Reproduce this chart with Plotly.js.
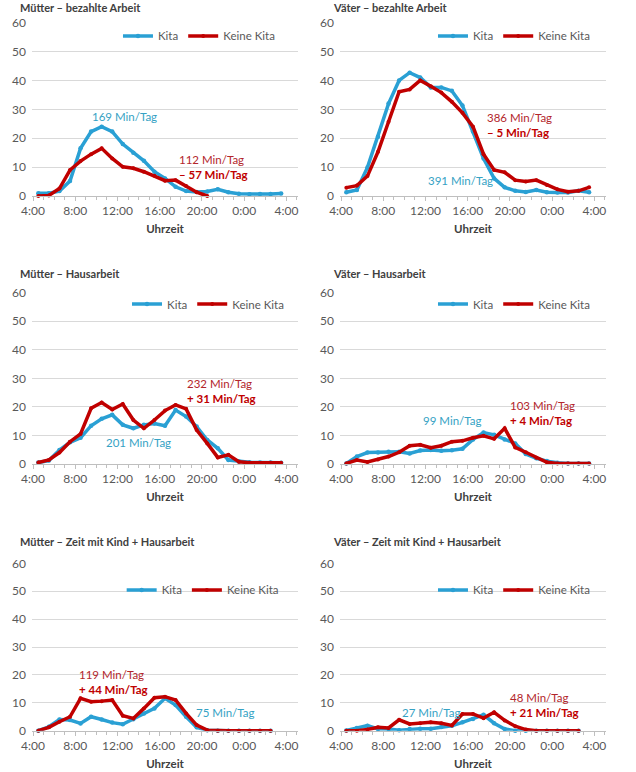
<!DOCTYPE html>
<html>
<head>
<meta charset="utf-8">
<script src="https://cdn.plot.ly/plotly-3.0.1.min.js"></script>
<style>
  html, body { margin: 0; padding: 0; background: #fff; }
  #chart { width: 636px; height: 772px; }
</style>
</head>
<body>
<div id="chart"></div>
<script>
// Stunden (Mitte jeder Stunde, 4:30 ... 3:30)
var hours = [4.5, 5.5, 6.5, 7.5, 8.5, 9.5, 10.5, 11.5, 12.5, 13.5, 14.5, 15.5,
             16.5, 17.5, 18.5, 19.5, 20.5, 21.5, 22.5, 23.5, 24.5, 25.5, 26.5, 27.5];
var tickPos = [4, 8, 12, 16, 20, 24, 28];
var tickLabels = ["4:00", "8:00", "12:00", "16:00", "20:00", "0:00", "4:00"];
var seriesNames = ["Kita", "Keine Kita"];

// Mütter – bezahlte Arbeit
var mArbeitKita  = [1.0, 1.0, 1.7, 5.2, 16.5, 22.3, 24.0, 22.3, 18.0, 15.0, 12.2, 8.4,
                    6.1, 3.2, 1.7, 1.4, 1.6, 2.3, 1.3, 0.8, 0.6, 0.7, 0.7, 0.9];
var mArbeitKeine = [0.0, 0.2, 2.6, 9.0, 12.1, 14.5, 16.5, 13.0, 10.1, 9.6, 8.4, 7.0,
                    5.3, 5.5, 3.5, 1.3, 0.0, null, null, null, null, null, null, null];
// Väter – bezahlte Arbeit
var vArbeitKita  = [1.3, 2.1, 9.9, 20.5, 32.0, 40.0, 42.7, 41.0, 37.6, 37.6, 36.4, 31.3,
                    22.3, 13.0, 6.1, 3.0, 1.8, 1.4, 2.1, 1.3, 1.2, 1.2, 1.8, 1.3];
var vArbeitKeine = [2.9, 3.6, 6.9, 15.3, 25.7, 36.1, 36.9, 40.0, 38.0, 35.8, 32.6, 28.8,
                    24.0, 14.5, 9.0, 8.2, 5.5, 5.0, 5.5, 3.8, 2.3, 1.5, 1.8, 3.0];
// Mütter – Hausarbeit
var mHausKita    = [0.5, 1.2, 4.9, 7.6, 9.2, 13.4, 15.8, 17.2, 13.7, 12.5, 13.7, 14.2,
                    13.4, 18.9, 16.6, 13.1, 8.4, 5.5, 1.4, 0.9, 0.6, 0.5, 0.5, 0.4];
var mHausKeine   = [0.5, 1.4, 4.0, 7.8, 10.5, 19.5, 21.5, 19.1, 21.0, 15.4, 12.5, 15.4,
                    18.7, 20.7, 19.3, 11.9, 7.2, 2.3, 3.2, 0.8, 0.4, 0.3, 0.4, 0.4];
// Väter – Hausarbeit
var vHausKita    = [0.2, 2.6, 4.0, 4.0, 4.3, 4.3, 3.7, 4.7, 4.9, 4.6, 4.8, 5.3,
                    8.6, 11.0, 10.2, 8.6, 7.2, 3.5, 2.0, 1.0, 0.4, 0.2, 0.2, 0.2];
var vHausKeine   = [0.2, 1.4, 0.7, 1.6, 2.6, 4.1, 6.4, 6.7, 5.7, 6.4, 7.8, 8.1,
                    9.2, 9.9, 8.8, 12.5, 5.8, 4.1, 2.2, 0.6, 0.2, 0.2, 0.2, 0.2];
// Mütter – Zeit mit Kind + Hausarbeit
var mKindKita    = [0.0, 1.4, 4.0, 3.8, 2.6, 5.0, 4.0, 2.9, 2.3, 4.1, 6.2, 8.0,
                    11.6, 9.2, 5.0, 1.2, 0.2, 0.0, 0.0, 0.0, 0.0, 0.0, 0.0, null];
var mKindKeine   = [0.0, 1.2, 3.2, 5.0, 11.6, 10.4, 10.6, 11.0, 5.4, 4.4, 8.0, 11.8,
                    12.2, 11.0, 6.2, 2.0, 0.2, 0.0, 0.0, 0.0, 0.0, 0.0, 0.0, null];
// Väter – Zeit mit Kind + Hausarbeit
var vKindKita    = [0.1, 1.0, 1.8, 0.6, 0.6, 0.2, 0.6, 0.7, 0.7, 1.3, 1.8, 3.0,
                    4.2, 5.7, 2.7, 0.6, 0.0, 0.0, 0.0, 0.0, 0.0, 0.0, 0.0, null];
var vKindKeine   = [0.0, 0.0, 0.4, 1.2, 1.0, 3.9, 2.4, 2.7, 3.0, 2.7, 1.9, 6.0,
                    6.0, 4.5, 6.6, 3.7, 1.6, 0.4, 0.0, 0.0, 0.0, 0.0, 0.0, null];

var panelTitles = ["Mütter – bezahlte Arbeit", "Väter – bezahlte Arbeit",
                   "Mütter – Hausarbeit", "Väter – Hausarbeit",
                   "Mütter – Zeit mit Kind + Hausarbeit", "Väter – Zeit mit Kind + Hausarbeit"];
var kitaLabels  = ["169 Min/Tag", "391 Min/Tag", "201 Min/Tag", "99 Min/Tag", "75 Min/Tag", "27 Min/Tag"];
var keineLabels = ["112 Min/Tag", "386 Min/Tag", "232 Min/Tag", "103 Min/Tag", "119 Min/Tag", "48 Min/Tag"];
var diffLabels  = ["– 57 Min/Tag", "– 5 Min/Tag", "+ 31 Min/Tag", "+ 4 Min/Tag", "+ 44 Min/Tag", "+ 21 Min/Tag"];

var kitaSeries  = [mArbeitKita, vArbeitKita, mHausKita, vHausKita, mKindKita, vKindKita];
var keineSeries = [mArbeitKeine, vArbeitKeine, mHausKeine, vHausKeine, mKindKeine, vKindKeine];

var BLUE = "#2aa0d4", RED = "#c00000";
var FONT = "Lato, 'Open Sans', sans-serif";

// label positions (data coords of each panel)
var kitaPos  = [[12.7, 27.4], [15.3, 5.2], [14.0, 7.5], [14.5, 15.4], [22.2, 6.6], [12.5, 6.45]];
var keinePos = [[17.6, 9.9], [17.6, 24.6], [18.4, 25.5], [19.8, 18.0], [8.2, 17.6], [19.8, 9.3]];

var colX = [[0.0503, 0.4686], [0.5346, 0.9528]];
var rowY = [[0.7461, 0.9706], [0.3990, 0.6209], [0.0535, 0.2703]];
var titleX = [0.0283, 0.5204];
var titleY = [0.9909, 0.6451, 0.2983];
var legX = [[0.1855, 0.6808], [0.1997, 0.6808], [0.1913, 0.6808]];
var legY = [0.9534, 0.6062, 0.2358];

var traces = [];
var layout = {
  width: 636, height: 772,
  margin: {l: 0, r: 0, t: 0, b: 0},
  paper_bgcolor: "#fff", plot_bgcolor: "#fff",
  font: {family: FONT, size: 11, color: "#595959"},
  annotations: []
};

for (var i = 0; i < 6; i++) {
  var col = i % 2, row = Math.floor(i / 2);
  var sfx = i === 0 ? "" : String(i + 1);
  var legName = "legend" + sfx;

  traces.push({
    x: hours, y: kitaSeries[i], name: seriesNames[0], type: "scatter", mode: "lines+markers",
    xaxis: "x" + sfx, yaxis: "y" + sfx, legend: legName, cliponaxis: false,
    line: {color: BLUE, width: 3.5}, marker: {color: BLUE, size: 4.5}
  });
  traces.push({
    x: hours, y: keineSeries[i], name: seriesNames[1], type: "scatter", mode: "lines+markers",
    xaxis: "x" + sfx, yaxis: "y" + sfx, legend: legName, cliponaxis: false,
    line: {color: RED, width: 3.5}, marker: {color: RED, size: 4}
  });

  layout["xaxis" + sfx] = {
    domain: colX[col], anchor: "y" + sfx, range: [3.9, 29.1],
    tickmode: "array", tickvals: tickPos, ticktext: tickLabels,
    showgrid: false, zeroline: false, showline: true, linecolor: "#bfbfbf", linewidth: 1,
    ticks: "outside", ticklen: 4, tickcolor: "#bfbfbf",
    minor: {dtick: 1, tick0: 4, ticks: "outside", ticklen: 3, tickcolor: "#bfbfbf"},
    tickfont: {size: 12, color: "#595959"},
    title: {text: "<b>Uhrzeit</b>", font: {size: 11.5, color: "#404040"}, standoff: 7}
  };
  layout["yaxis" + sfx] = {
    domain: rowY[row], anchor: "x" + sfx, range: [0, 60], dtick: 10,
    showgrid: true, gridcolor: "#d9d9d9", zeroline: false, showline: false,
    tickfont: {size: 12, color: "#595959"}, ticklabelstandoff: 5
  };
  layout[legName] = {
    x: legX[row][col], y: legY[row], xanchor: "left", yanchor: "middle",
    orientation: "h", bgcolor: "rgba(0,0,0,0)", borderwidth: 0,
    font: {size: 11.5, color: "#595959"}, itemwidth: 30
  };

  layout.annotations.push({
    xref: "paper", yref: "paper", x: titleX[col], y: titleY[row],
    xanchor: "left", yanchor: "middle", showarrow: false,
    text: "<b>" + panelTitles[i] + "</b>", font: {size: 11, color: "#404040"}
  });
  layout.annotations.push({
    xref: "x" + sfx, yref: "y" + sfx, x: kitaPos[i][0], y: kitaPos[i][1],
    xanchor: "center", yanchor: "middle", showarrow: false,
    text: kitaLabels[i], font: {size: 11.5, color: "#35a2c4"}
  });
  layout.annotations.push({
    xref: "x" + sfx, yref: "y" + sfx, x: keinePos[i][0], y: keinePos[i][1],
    xanchor: "left", yanchor: "middle", align: "left", showarrow: false,
    text: keineLabels[i] + "<br><b><span style='color:" + RED + "'>" + diffLabels[i] + "</span></b>",
    font: {size: 11.5, color: "#b3262b"}
  });
}

Plotly.newPlot("chart", traces, layout, {staticPlot: true});
</script>
</body>
</html>
